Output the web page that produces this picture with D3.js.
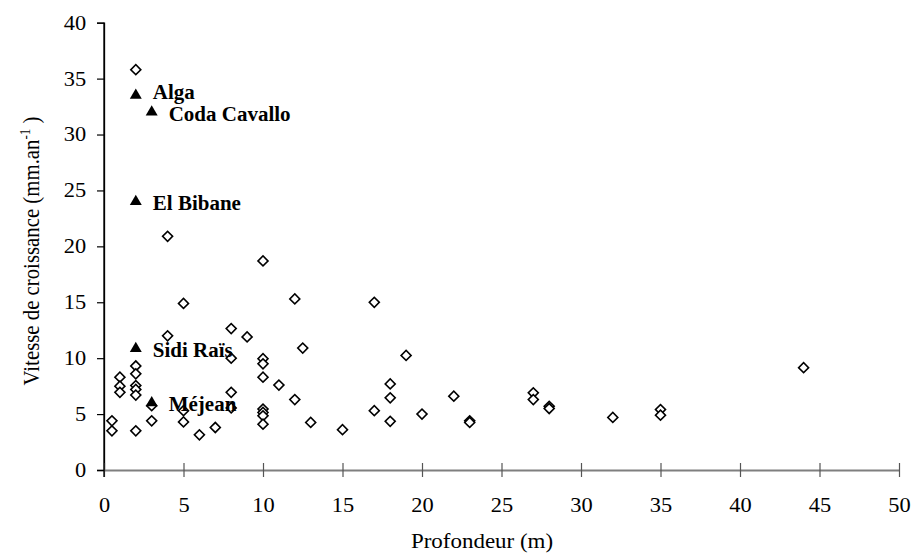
<!DOCTYPE html>
<html>
<head>
<meta charset="utf-8">
<script src="https://cdn.jsdelivr.net/npm/d3@7"></script>
<style>
  body { margin: 0; background: #fff; }
  text { font-family: "Liberation Serif", "Times New Roman", serif; }
</style>
</head>
<body>
<div id="chart"></div>
<script>
// Observations (depth in m, growth in mm/yr)
const depth = [0.5, 0.5, 1, 1, 1, 2, 2, 2, 2, 2, 2, 2, 3, 3, 4, 4, 5, 5, 5, 6, 7,
    8, 8, 8, 8, 9, 10, 10, 10, 10, 10, 10, 10, 10, 11, 12, 12, 12.5, 13, 15, 17, 17,
    18, 18, 18, 19, 20, 22, 23, 23, 27, 27, 28, 28, 32, 35, 35, 44];
const growth = [4.4, 3.5, 8.3, 7.5, 6.95, 35.8, 9.3, 8.6, 7.55, 7.2, 6.7, 3.5, 5.75, 4.4, 20.9, 12.0, 14.9, 5.3, 4.3, 3.15, 3.8,
    12.65, 10.0, 6.95, 5.55, 11.9, 18.7, 9.95, 9.5, 8.3, 5.45, 5.15, 4.85, 4.1, 7.6, 15.3, 6.3, 10.9, 4.25, 3.6, 15.0, 5.3,
    7.7, 6.45, 4.35, 10.25, 5.0, 6.6, 4.4, 4.25, 6.9, 6.3, 5.7, 5.5, 4.7, 5.4, 4.9, 9.15];

// Named sites (triangles)
const siteNames = ["Alga", "Coda Cavallo", "El Bibane", "Sidi Raïs", "Méjean"];
const siteDepth = [2, 3, 2, 2, 3];
const siteGrowth = [33.5, 32, 24, 10.85, 6.0];

const xTicks = [0, 5, 10, 15, 20, 25, 30, 35, 40, 45, 50];
const yTicks = [0, 5, 10, 15, 20, 25, 30, 35, 40];

const W = 914, H = 553;
const margin = { top: 22.7, right: 15, bottom: 83, left: 104 };
const SX = 1.12; // text in the original is a bit wide

const svg = d3.select("#chart").append("svg")
    .attr("width", W)
    .attr("height", H);

const x = d3.scaleLinear().domain([0, 50]).range([margin.left, 899]);
const y = d3.scaleLinear().domain([0, 40]).range([H - margin.bottom, margin.top]);

// y axis
const yAxis = svg.append("g")
    .attr("transform", `translate(${margin.left},0)`)
    .call(d3.axisLeft(y).tickValues(yTicks).tickSize(7).tickPadding(9));
yAxis.select(".domain").attr("stroke", "#000").attr("stroke-width", 1.3);
yAxis.selectAll(".tick line").attr("stroke", "#000").attr("stroke-width", 1.2);
yAxis.selectAll("text").attr("font-size", 20).attr("fill", "#000")
    .attr("font-family", "Liberation Serif")
    .attr("transform", `scale(${SX},1)`);

// x axis
const xAxis = svg.append("g")
    .attr("transform", `translate(0,${y(0)})`)
    .call(d3.axisBottom(x).tickValues(xTicks).tickSize(7).tickSizeOuter(0).tickPadding(20.5));
xAxis.select(".domain").attr("stroke", "#7f7f7f").attr("stroke-width", 2.2);
xAxis.selectAll(".tick line").attr("y1", -7).attr("stroke", "#555").attr("stroke-width", 1.2);
xAxis.selectAll("text").attr("font-size", 20).attr("fill", "#000")
    .attr("font-family", "Liberation Serif")
    .attr("transform", `scale(${SX},1)`);

// redraw y axis line over x axis at origin
svg.append("line")
    .attr("x1", margin.left).attr("x2", margin.left)
    .attr("y1", y(0) + 7).attr("y2", y(40))
    .attr("stroke", "#000").attr("stroke-width", 1.3);

// axis titles
svg.append("text")
    .attr("transform", `translate(482,548) scale(${SX},1)`)
    .attr("text-anchor", "middle")
    .attr("font-size", 20.5)
    .text("Profondeur (m)");

const yt = svg.append("text")
    .attr("transform", `translate(39,251) rotate(-90) scale(1,${SX})`)
    .attr("text-anchor", "middle")
    .attr("font-size", 20.8);
yt.append("tspan").text("Vitesse de croissance (mm.an");
yt.append("tspan").attr("dy", -8).attr("font-size", 13).text("-1");
yt.append("tspan").attr("dy", 8).text(" )");

// diamonds
const diamond = d3.symbol().type(d3.symbolSquare).size(50);
svg.append("g")
    .selectAll("path")
    .data(depth.map((d, i) => [d, growth[i]]))
    .enter().append("path")
    .attr("d", diamond)
    .attr("transform", d => `translate(${x(d[0])},${y(d[1])}) rotate(45)`)
    .attr("fill", "#fff")
    .attr("stroke", "#000")
    .attr("stroke-width", 1.6);

// triangles for named sites
const tri = d3.symbol().type(d3.symbolTriangle).size(62);
const sites = siteNames.map((n, i) => ({ name: n, d: siteDepth[i], g: siteGrowth[i] }));
svg.append("g")
    .selectAll("path")
    .data(sites)
    .enter().append("path")
    .attr("d", tri)
    .attr("transform", d => `translate(${x(d.d)},${y(d.g)})`)
    .attr("fill", "#000");

// labels sit a little below their marker, "Alga" is nudged up
const labelDy = d => d.name === "Alga" ? 4 : 8.5;
svg.append("g")
    .selectAll("text")
    .data(sites)
    .enter().append("text")
    .attr("transform", d => `translate(${x(d.d) + 17},${y(d.g) + labelDy(d)}) scale(1.05,1)`)
    .attr("font-size", 20)
    .attr("font-weight", "bold")
    .text(d => d.name);
</script>
</body>
</html>
